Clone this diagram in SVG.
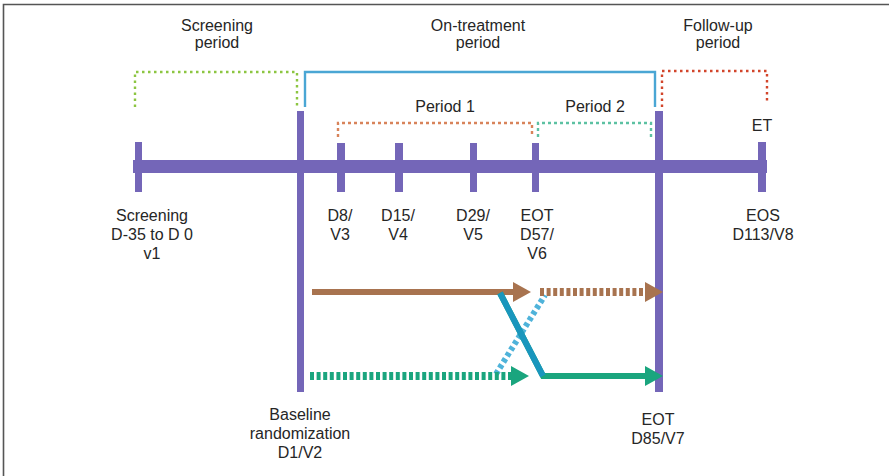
<svg xmlns="http://www.w3.org/2000/svg" width="889" height="476" viewBox="0 0 889 476">
<defs>
<style>
text{font-family:"Liberation Sans",Arial,sans-serif;font-size:16px;fill:#262626;text-anchor:middle}
.tick{fill:#7466b8}
.brk{fill:none;stroke-width:2.4}
</style>
<marker id="ahBrown" markerUnits="userSpaceOnUse" markerWidth="20" markerHeight="22" refX="0" refY="11" orient="auto"><path d="M0,1 L18,11 L0,21 z" fill="#a8734f"/></marker>
<marker id="ahGreen" markerUnits="userSpaceOnUse" markerWidth="20" markerHeight="22" refX="0" refY="11" orient="auto"><path d="M0,1 L18,11 L0,21 z" fill="#1aa57e"/></marker>
</defs>
<rect width="889" height="476" fill="#fff"/>
<path d="M3.5,476 V4.5 H889" fill="none" stroke="#555" stroke-width="1.6"/>

<g id="brackets">
<path class="brk" d="M135,107 V72 H297 V107" stroke="#8cc541" stroke-dasharray="2.5 3.5"/>
<path class="brk" d="M305,107 V72 H655 V107" stroke="#4aa6d4" stroke-width="2"/>
<path class="brk" d="M662,107 V71 H767 V102" stroke="#d2452b" stroke-dasharray="2.5 3.5" stroke-width="2.6"/>
<path class="brk" d="M338,137 V123 H532 V137" stroke="#d8835a" stroke-dasharray="3 3" stroke-width="2"/>
<path class="brk" d="M538,137 V123 H651 V137" stroke="#5cc1a2" stroke-dasharray="3 3" stroke-width="2"/>
</g>

<g id="timeline">
<rect class="tick" x="133" y="160" width="634" height="13"/>
<rect class="tick" x="135" y="142" width="7" height="50"/>
<rect class="tick" x="297" y="111" width="7" height="281"/>
<rect class="tick" x="337" y="143" width="8" height="49"/>
<rect class="tick" x="395" y="143" width="8" height="49"/>
<rect class="tick" x="470" y="143" width="7" height="49"/>
<rect class="tick" x="532" y="143" width="7" height="49"/>
<rect class="tick" x="655" y="111" width="8" height="281"/>
<rect class="tick" x="758" y="142" width="8" height="50"/>
</g>

<g id="connectors">
<line x1="496" y1="374" x2="545" y2="295" stroke="#4fb3da" stroke-width="6" stroke-dasharray="4 3"/>
<line x1="312" y1="292" x2="513" y2="292" stroke="#a8734f" stroke-width="6" marker-end="url(#ahBrown)"/>
<line x1="540" y1="292" x2="645" y2="292" stroke="#a8734f" stroke-width="8" stroke-dasharray="4 2.6" marker-end="url(#ahBrown)"/>
<line x1="310" y1="376" x2="511" y2="376" stroke="#1aa57e" stroke-width="8" stroke-dasharray="4 2.6" marker-end="url(#ahGreen)"/>
<polyline points="500,293 543,376 645,376" fill="none" stroke="#1aa57e" stroke-width="6" stroke-linejoin="miter" marker-end="url(#ahGreen)"/>
<line x1="500" y1="293" x2="543" y2="376" stroke="#1996bd" stroke-width="6"/>
</g>

<g id="labels-top">
<text x="217" y="31">Screening</text><text x="217" y="48">period</text>
<text x="478" y="31">On-treatment</text><text x="478" y="48">period</text>
<text x="718" y="31">Follow-up</text><text x="718" y="48">period</text>
<text x="445" y="112">Period 1</text>
<text x="595" y="112">Period 2</text>
<text x="762" y="131">ET</text>
</g>

<g id="labels-bottom">
<text x="152" y="221">Screening</text><text x="152" y="240">D-35 to D 0</text><text x="152" y="259">v1</text>
<text x="340" y="221">D8/</text><text x="340" y="240">V3</text>
<text x="398" y="221">D15/</text><text x="398" y="240">V4</text>
<text x="473" y="221">D29/</text><text x="473" y="240">V5</text>
<text x="537" y="221">EOT</text><text x="537" y="240">D57/</text><text x="537" y="259">V6</text>
<text x="763" y="221">EOS</text><text x="763" y="240">D113/V8</text>
<text x="300" y="420">Baseline</text><text x="300" y="439">randomization</text><text x="300" y="458">D1/V2</text>
<text x="658" y="425">EOT</text><text x="658" y="444">D85/V7</text>
</g>
</svg>
